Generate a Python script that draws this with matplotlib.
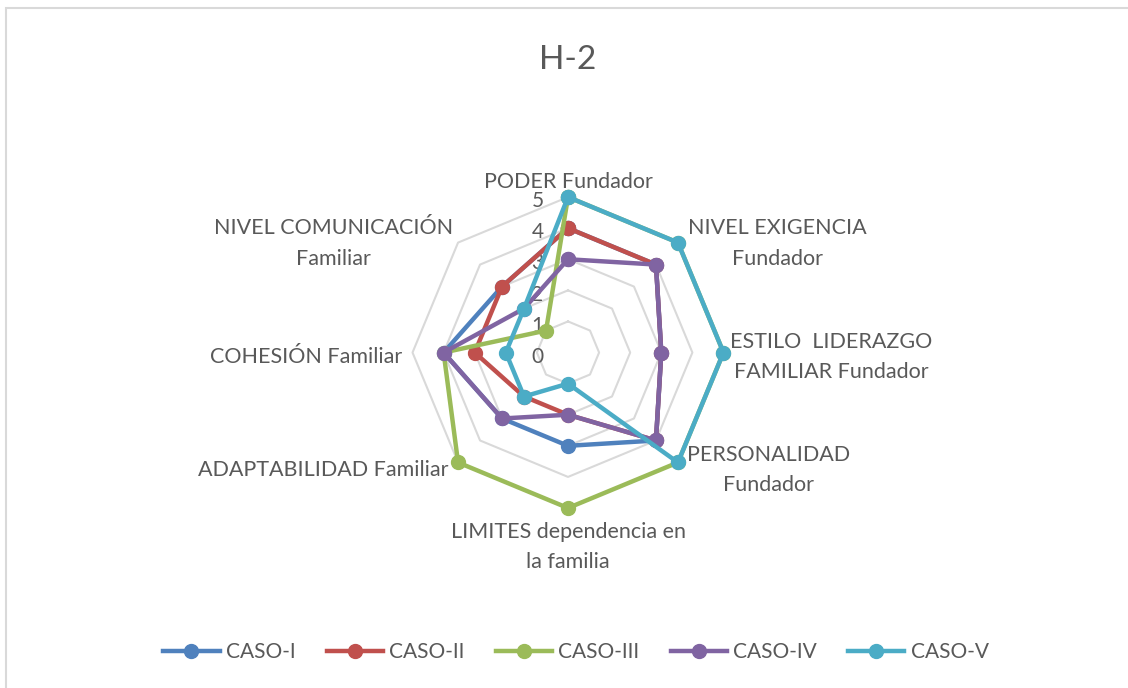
"""Radar chart H-2: five cases scored on eight family-business dimensions."""

import numpy as np
import matplotlib

matplotlib.use("Agg")
import matplotlib.pyplot as plt
from matplotlib.patches import Rectangle

plt.rcParams["font.family"] = ["Lato", "DejaVu Sans"]

# Data (clockwise from the top)
categories = [
    "PODER Fundador",
    "NIVEL EXIGENCIA\nFundador",
    "ESTILO  LIDERAZGO\nFAMILIAR Fundador",
    "PERSONALIDAD\nFundador",
    "LIMITES dependencia en\nla familia",
    "ADAPTABILIDAD Familiar",
    "COHESIÓN Familiar",
    "NIVEL COMUNICACIÓN\nFamiliar",
]
series_names = ["CASO-I", "CASO-II", "CASO-III", "CASO-IV", "CASO-V"]
caso_i = [4, 4, 3, 4, 3, 3, 4, 3]
caso_ii = [4, 4, 3, 4, 2, 2, 3, 3]
caso_iii = [5, 5, 5, 5, 5, 5, 4, 1]
caso_iv = [3, 4, 3, 4, 2, 3, 4, 2]
caso_v = [5, 5, 5, 5, 1, 2, 2, 2]
series_values = [caso_i, caso_ii, caso_iii, caso_iv, caso_v]
colors = ["#4F81BD", "#C0504D", "#9BBB59", "#8064A2", "#4BACC6"]
rings = [1, 2, 3, 4, 5]

TEXT = "#595959"
PX = 0.72  # pixels -> points at 100 dpi

fig = plt.figure(figsize=(11.28, 6.88), dpi=100)

# light chart border (runs off the right and bottom edges)
fig.patches.append(
    Rectangle((6 / 1128, -0.05), 1.2, 1 - 8 / 688 + 0.05,
              transform=fig.transFigure, fill=False,
              edgecolor="#D9D9D9", linewidth=1.5)
)

fig.text(0.5035, 0.913, "H-2", ha="center", va="center",
         fontsize=24, color=TEXT)

ax = fig.add_axes([0.3657, 0.2616, 0.2757, 0.452], projection="polar")
ax.set_theta_offset(np.pi / 2)
ax.set_theta_direction(-1)
ax.set_ylim(0, 5)
ax.grid(False)
ax.spines["polar"].set_visible(False)
ax.set_xticks([])
ax.set_yticks([])
ax.patch.set_alpha(0)

n = len(categories)
angles = np.linspace(0, 2 * np.pi, n, endpoint=False)
closed = np.append(angles, angles[0])

# octagonal grid rings
for r in rings:
    ax.plot(closed, [r] * (n + 1), color="#D9D9D9", linewidth=1.5,
            zorder=1, clip_on=False)

# radial value labels
for r in [0] + rings:
    ax.annotate(str(r), xy=(0, r), xytext=(-22, -3),
                textcoords="offset points", ha="center", va="center",
                fontsize=15, color=TEXT, zorder=2)

for name, vals, col in zip(series_names, series_values, colors):
    ax.plot(closed, vals + vals[:1], color=col, linewidth=3.2, marker="o",
            markersize=10, label=name, zorder=3, clip_on=False)

# category labels: pixel offset from the outer ring vertex, alignment
label_pos = [
    ((0, 15), "center"),
    ((10, -1), "left"),
    ((7, -4.5), "left"),
    ((9, -7.5), "left"),
    ((0, -39), "center"),
    ((-10, -7.5), "right"),
    ((-10.5, -4.5), "right"),
    ((-5, -1), "right"),
]
for ang, lab, ((dx, dy), ha) in zip(angles, categories, label_pos):
    ax.annotate(lab, xy=(ang, 5), xytext=(dx * PX, dy * PX),
                textcoords="offset points", ha=ha, va="center",
                multialignment="center", fontsize=15.5, color=TEXT,
                linespacing=1.65)

fig.legend(loc="center", bbox_to_anchor=(0.5106, 0.0523), ncol=5,
           frameon=False, fontsize=15, handlelength=2.7,
           columnspacing=1.5, handletextpad=0.3, labelcolor=TEXT)

fig.savefig("out.png", dpi=100)
